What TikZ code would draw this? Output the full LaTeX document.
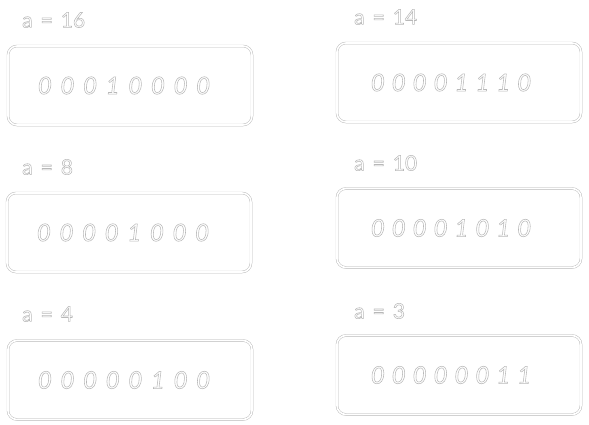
\documentclass[tikz,border=0pt]{standalone}
\usepackage{fontspec}
\setmainfont{Lato}
\definecolor{sk}{HTML}{B8B8B8}
\newcommand\hollow[1]{\special{pdf:literal direct 1 Tr 0.55 w}#1\special{pdf:literal direct 0 Tr}}
\newcommand\bitsfont{\fontsize{24}{24}\selectfont\itshape\spaceskip=8.7pt\relax}
\newcommand\bitsfontr{\fontsize{24}{24}\selectfont\itshape\spaceskip=7pt\relax}
\newcommand\labfont{\fontsize{21}{21}\selectfont\spaceskip=8pt\relax}
\tikzset{
  bitbox/.style={draw=sk, line width=0.45pt, double=white, double distance=1.6pt,
    rounded corners=9pt, minimum width=244pt, minimum height=79pt, inner sep=0pt,
    font=\bitsfont, text=sk},
  bitboxr/.style={bitbox, font=\bitsfontr},
  lab/.style={anchor=west, inner sep=0pt, font=\labfont, text=sk}
}
\begin{document}
\begin{tikzpicture}[x=1pt,y=-1pt]
\useasboundingbox (0,0) rectangle (589,424);
% left column
\node[lab] (l1) at (22,20) {\hollow{a = 16}};
\node[bitbox] (b1) at (130,85.5) {\raisebox{-2pt}{\hollow{0 0 0 1 0 0 0 0}}\hspace*{12pt}};
\node[lab] (l2) at (22,167) {\hollow{a = 8}};
\node[bitbox] (b2) at (129,232.5) {\raisebox{-2pt}{\hollow{0 0 0 0 1 0 0 0}}\hspace*{12pt}};
\node[lab] (l3) at (22,314) {\hollow{a = 4}};
\node[bitbox] (b3) at (130,380) {\raisebox{-1pt}{\hollow{0 0 0 0 0 1 0 0}}\hspace*{12pt}};
% right column
\node[lab] (r1) at (354,17) {\hollow{a = 14}};
\node[bitboxr] (c1) at (459,82.5) {\raisebox{-3pt}{\hollow{0 0 0 0 1 1 1 0}}\hspace*{16pt}};
\node[lab] (r2) at (354,163) {\hollow{a = 10}};
\node[bitboxr] (c2) at (459,228) {\raisebox{-1pt}{\hollow{0 0 0 0 1 0 1 0}}\hspace*{16pt}};
\node[lab] (r3) at (354,311) {\hollow{a = 3}};
\node[bitboxr] (c3) at (459,375) {\raisebox{-2pt}{\hollow{0 0 0 0 0 0 1 1}}\hspace*{16pt}};
\end{tikzpicture}
\end{document}
